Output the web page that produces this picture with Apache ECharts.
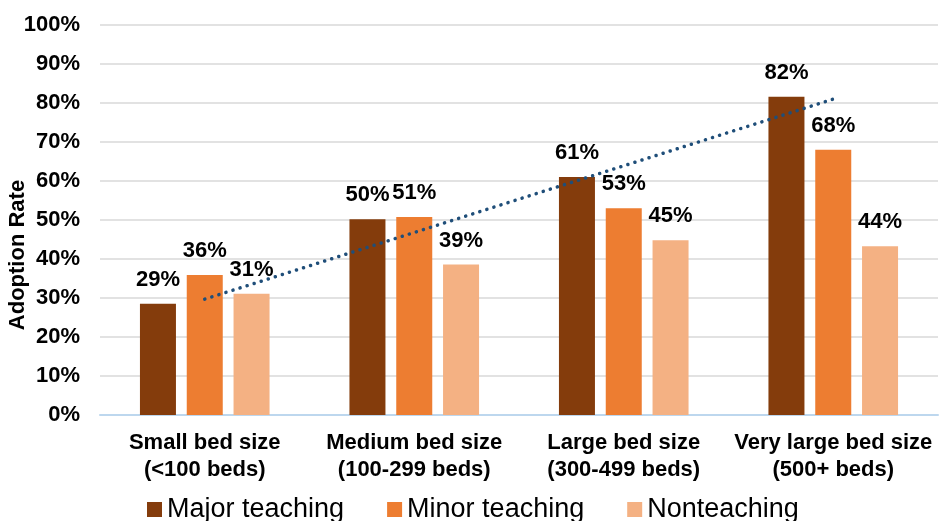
<!DOCTYPE html>
<html>
<head>
<meta charset="utf-8">
<script src="https://cdn.jsdelivr.net/npm/echarts@6/dist/echarts.min.js"></script>
<style>
html,body{margin:0;padding:0;background:#fff;}
#chart{width:940px;height:521px;}
</style>
</head>
<body>
<div id="chart"></div>
<script>
const categories = [
  'Small bed size\n(<100 beds)',
  'Medium bed size\n(100-299 beds)',
  'Large bed size\n(300-499 beds)',
  'Very large bed size\n(500+ beds)'
];
const seriesNames = ['Major teaching', 'Minor teaching', 'Nonteaching'];
const majorTeaching = [28.5, 50.2, 61.0, 81.6];
const minorTeaching = [35.9, 50.8, 53.0, 68.0];
const nonteaching = [31.1, 38.6, 44.8, 43.3];
const majorLabels = ['29%', '50%', '61%', '82%'];
const minorLabels = ['36%', '51%', '53%', '68%'];
const nonLabels = ['31%', '39%', '45%', '44%'];
// Linear trendline (Major teaching) end points
const trendStart = 29.7;
const trendEnd = 81.0;
const yTicks = [0, 10, 20, 30, 40, 50, 60, 70, 80, 90, 100];

const colors = ['#843C0C', '#ED7D31', '#F4B183'];
const FONT = 'Liberation Sans, Arial, sans-serif';

function barSeries(name, values, labels, color) {
  return {
    name: name,
    type: 'bar',
    barWidth: 36,
    barGap: '30%',
    data: values,
    itemStyle: { color: color },
    label: {
      show: true,
      position: 'top',
      distance: 13,
      formatter: p => labels[p.dataIndex],
      fontFamily: FONT,
      fontWeight: 'bold',
      fontSize: 22,
      color: '#000'
    },
    emphasis: { disabled: true }
  };
}

const chart = echarts.init(document.getElementById('chart'), null, { renderer: 'canvas' });
chart.setOption({
  animation: false,
  textStyle: { fontFamily: FONT },
  grid: { left: 100, right: 2, top: 25, bottom: 106, containLabel: false, outerBoundsMode: 'none' },
  legend: {
    data: seriesNames,
    left: 142,
    top: 491,
    itemWidth: 15,
    itemHeight: 15,
    itemGap: 43,
    icon: 'rect',
    textStyle: { fontFamily: FONT, fontSize: 27, color: '#000' },
    selectedMode: false
  },
  xAxis: {
    type: 'category',
    data: categories,
    axisTick: { show: false },
    axisLine: { show: true, lineStyle: { color: '#BDD7EE', width: 2 } },
    axisLabel: {
      interval: 0,
      margin: 14,
      fontFamily: FONT,
      fontWeight: 'bold',
      fontSize: 22,
      lineHeight: 27,
      color: '#000'
    },
    splitLine: { show: false }
  },
  yAxis: {
    type: 'value',
    min: 0,
    max: 100,
    interval: 10,
    name: 'Adoption Rate',
    nameLocation: 'middle',
    nameMoveOverlap: false,
    nameGap: 71,
    nameTextStyle: {
      fontFamily: FONT,
      fontWeight: 'bold',
      fontSize: 22,
      color: '#000',
      padding: [0, 70, 0, 0]
    },
    axisLine: { show: false },
    axisTick: { show: false },
    axisLabel: {
      margin: 20,
      fontFamily: FONT,
      fontWeight: 'bold',
      fontSize: 22,
      color: '#000',
      formatter: v => yTicks.includes(v) ? v + '%' : ''
    },
    splitLine: { show: true, lineStyle: { color: '#D9D9D9', width: 1.5 } }
  },
  series: [
    barSeries(seriesNames[0], majorTeaching, majorLabels, colors[0]),
    barSeries(seriesNames[1], minorTeaching, minorLabels, colors[1]),
    barSeries(seriesNames[2], nonteaching, nonLabels, colors[2]),
    {
      name: 'Linear (Major teaching)',
      type: 'line',
      data: [[0, trendStart], [3, trendEnd]],
      symbol: 'none',
      z: 5,
      lineStyle: { color: '#1F4E79', width: 3.5, type: [0.1, 7.3], cap: 'round' },
      emphasis: { disabled: true }
    }
  ]
});
</script>
</body>
</html>
